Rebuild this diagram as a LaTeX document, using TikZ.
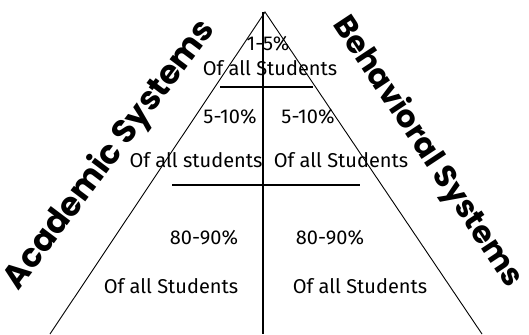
\documentclass[tikz,border=0pt]{standalone}
\usepackage{fontspec}
\setmainfont{Fira Sans}
\newfontfamily\headfont{Poppins}
\begin{document}
\begin{tikzpicture}[x=1pt,y=-1pt,
  lbl/.style={inner sep=0pt,font=\fontsize{20}{22}\selectfont},
  head/.style={inner sep=0pt,font=\headfont\bfseries\fontsize{33}{35}\selectfont},
  edge/.style={line width=0.9pt},
  mid/.style={line width=1.4pt},
  band/.style={line width=1.2pt}]
\useasboundingbox (0,0) rectangle (529,334);
\coordinate (apex) at (265,12);
\coordinate (bl) at (50,334);
\coordinate (br) at (482,334);
\coordinate (vt) at (263,12);
\coordinate (vb) at (263,334);
\coordinate (a1) at (220,87);
\coordinate (b1) at (313,87);
\coordinate (a2) at (172,185);
\coordinate (b2) at (360,185);
\draw[edge] (bl) -- (apex) -- (br);
\draw[mid] (vt) -- (vb);
\draw[band] (a1) -- (b1);
\draw[band] (a2) -- (b2);
\node[lbl] (t1) at (268,44) {1-5\%};
\node[lbl] (t2) at (270,68) {Of all Students};
\node[lbl] (l1) at (230,117) {5-10\%};
\node[lbl] (r1) at (308,117) {5-10\%};
\node[lbl] (l2) at (196,160) {Of all students};
\node[lbl] (r2) at (341,160) {Of all Students};
\node[lbl] (l3) at (204,238) {80-90\%};
\node[lbl] (r3) at (330,238) {80-90\%};
\node[lbl] (l4) at (171,286) {Of all Students};
\node[lbl] (r4) at (360,286) {Of all Students};
\node[head,rotate=53] (ac) at (110,155) {Academic Systems};
\node[head,rotate=-56.5,font=\headfont\bfseries\fontsize{31}{33}\selectfont] (be) at (427,152) {Behavioral Systems};
\end{tikzpicture}
\end{document}
